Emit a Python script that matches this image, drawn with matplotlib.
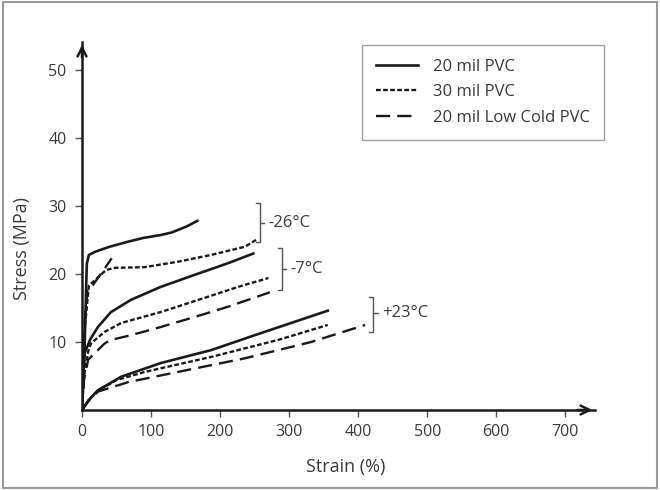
import matplotlib.pyplot as plt
from matplotlib.patches import Rectangle

plt.rcParams['font.family'] = ['Open Sans', 'DejaVu Sans']

# -26 C
strain_26_20 = [0, 4, 6, 7, 10, 20, 40, 65, 89, 113, 130, 152, 167]
stress_26_20 = [0, 10, 18, 21.5, 22.8, 23.3, 24.0, 24.7, 25.3, 25.7, 26.1, 27.0, 27.8]
strain_26_30 = [0, 4, 10, 20, 35, 48, 91, 139, 187, 236, 252]
stress_26_30 = [0, 12, 18.3, 19.2, 20.6, 20.9, 21.0, 21.8, 22.8, 24.0, 25.0]
strain_26_lc = [0, 4, 8, 16, 30, 43]
stress_26_lc = [0, 13, 17.8, 18.4, 20.4, 22.3]

# -7 C
strain_7_20 = [0, 2, 4, 12, 23, 42, 71, 114, 164, 212, 248]
stress_7_20 = [0, 5, 8.4, 10.4, 12.2, 14.4, 16.2, 18.1, 19.9, 21.6, 23.0]
strain_7_30 = [0, 3, 9, 13, 33, 57, 114, 178, 226, 270]
stress_7_30 = [0, 5, 8.6, 9.8, 11.5, 12.8, 14.4, 16.5, 18.1, 19.4]
strain_7_lc = [0, 3, 9, 33, 42, 71, 114, 164, 212, 272]
stress_7_lc = [0, 4.5, 7.4, 9.8, 10.3, 11.0, 12.2, 13.7, 15.2, 17.3]

# +23 C
strain_23_20 = [0, 10, 23, 57, 114, 187, 259, 356]
stress_23_20 = [0, 1.5, 2.9, 4.9, 6.9, 8.8, 11.3, 14.6]
strain_23_30 = [0, 10, 23, 50, 91, 187, 284, 356]
stress_23_30 = [0, 1.5, 2.8, 4.4, 5.6, 7.8, 10.3, 12.5]
strain_23_lc = [0, 10, 23, 67, 139, 236, 332, 410]
stress_23_lc = [0, 1.4, 2.7, 4.1, 5.6, 7.6, 10.0, 12.5]

# brackets: x, top, bottom, middle, label
bracket_x = [258, 290, 422]
bracket_top = [30.4, 23.8, 16.6]
bracket_bottom = [24.7, 17.6, 11.5]
bracket_mid = [27.5, 20.8, 14.2]
bracket_labels = ['-26°C', '-7°C', '+23°C']

x_ticks = [0, 100, 200, 300, 400, 500, 600, 700]
y_ticks = [10, 20, 30, 40, 50]

line_color = '#1a1a1a'
text_color = '#3a3a3a'

fig = plt.figure(figsize=(6.6, 4.9), dpi=100)
fig.patches.append(Rectangle((0.004, 0.005), 0.992, 0.99, transform=fig.transFigure,
                             fill=False, edgecolor='#9a9a9a', linewidth=1.5))
ax = fig.add_axes([82 / 660, 80 / 490, 513 / 660, 368 / 490])
ax.set_xlim(0, 743)
ax.set_ylim(0, 54.1)

solid = dict(color=line_color, linewidth=1.9, linestyle='-')
dotted = dict(color=line_color, linewidth=1.7, linestyle=(0, (2, 1)))
dashed = dict(color=line_color, linewidth=1.7, linestyle=(0, (6, 3)))

ax.plot(strain_26_20, stress_26_20, label='20 mil PVC', **solid)
ax.plot(strain_26_30, stress_26_30, label='30 mil PVC', **dotted)
ax.plot(strain_26_lc, stress_26_lc, label='20 mil Low Cold PVC', **dashed)
ax.plot(strain_7_20, stress_7_20, **solid)
ax.plot(strain_7_30, stress_7_30, **dotted)
ax.plot(strain_7_lc, stress_7_lc, **dashed)
ax.plot(strain_23_20, stress_23_20, **solid)
ax.plot(strain_23_30, stress_23_30, **dotted)
ax.plot(strain_23_lc, stress_23_lc, **dashed)

# temperature brackets
for bx, top, bot, mid, lab in zip(bracket_x, bracket_top, bracket_bottom, bracket_mid, bracket_labels):
    ax.plot([bx - 6, bx, bx, bx - 6], [top, top, bot, bot], color='#555555', linewidth=1.0)
    ax.plot([bx, bx + 6], [mid, mid], color='#555555', linewidth=1.0)
    ax.text(bx + 12, mid, lab, fontsize=12, color=text_color, va='center', ha='left')

# axes with arrow heads
for side in ['top', 'right']:
    ax.spines[side].set_visible(False)
for side in ['left', 'bottom']:
    ax.spines[side].set_linewidth(1.8)
    ax.spines[side].set_color(line_color)
ax.annotate('', xy=(1.0, 0), xytext=(0.96, 0), xycoords='axes fraction',
            arrowprops=dict(arrowstyle='->', lw=1.8, color=line_color, mutation_scale=16))
ax.annotate('', xy=(0, 1.0), xytext=(0, 0.95), xycoords='axes fraction',
            arrowprops=dict(arrowstyle='->', lw=1.8, color=line_color, mutation_scale=16))

ax.set_xticks(x_ticks)
ax.set_yticks(y_ticks)
ax.tick_params(axis='both', direction='out', length=5, width=1.0, colors='#555555',
               labelcolor=text_color, labelsize=11.5)
ax.tick_params(axis='x', pad=5)
ax.tick_params(axis='y', pad=6)

fig.text(346 / 660, 1 - 467 / 490, 'Strain (%)', fontsize=13, color=text_color,
         ha='center', va='center')
fig.text(22 / 660, 1 - 249 / 490, 'Stress (MPa)', fontsize=13, color=text_color,
         ha='center', va='center', rotation=90)

leg = ax.legend(loc='upper left', bbox_to_anchor=(362 / 660, 1 - 45 / 490),
                bbox_transform=fig.transFigure, borderaxespad=0, fontsize=12, frameon=True,
                fancybox=False, handlelength=2.5, handletextpad=0.9, labelspacing=0.55,
                borderpad=0.85, labelcolor=text_color)
leg.get_frame().set_edgecolor('#8a8a8a')
leg.get_frame().set_linewidth(1.0)

fig.savefig('out.png', dpi=100)
